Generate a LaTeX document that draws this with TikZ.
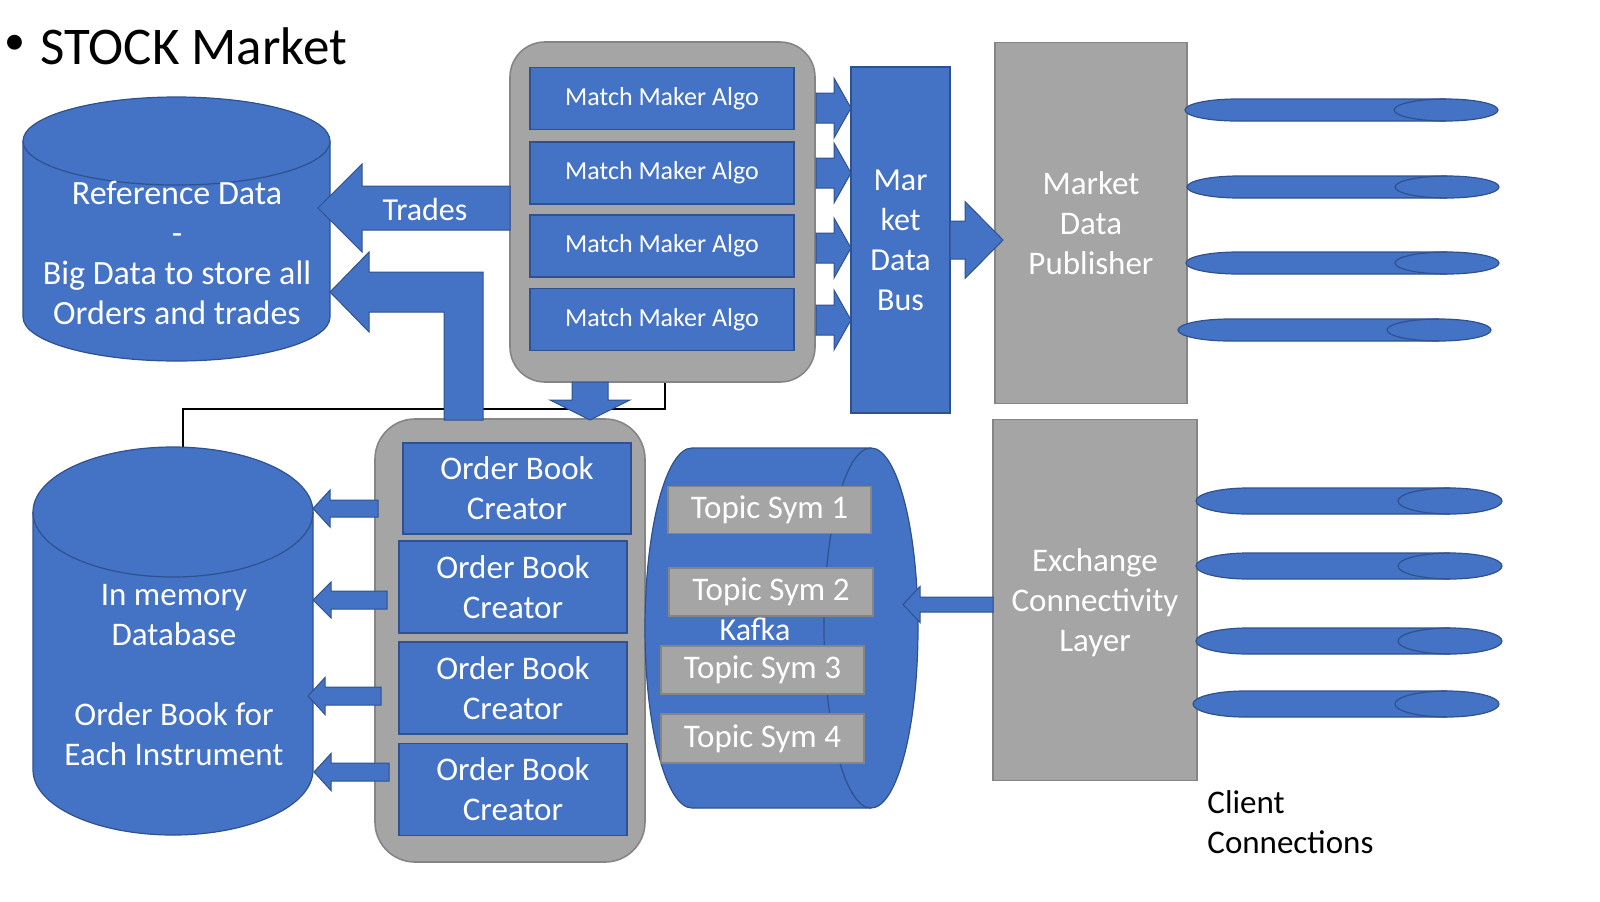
\documentclass[tikz,border=0pt]{standalone}
\usepackage{fontspec}
\setmainfont{Carlito}
\usetikzlibrary{calc}
\definecolor{bfill}{HTML}{4472C4}
\definecolor{bdark}{HTML}{2F528F}
\definecolor{gfill}{HTML}{A5A5A5}
\definecolor{gdark}{HTML}{858585}
\tikzset{
  arrowsty/.style={fill=bfill, draw=bdark, line width=0.5pt, line join=miter},
  cylsty/.style={fill=bfill, draw=bdark, line width=0.6pt},
  cylline/.style={draw=bdark, line width=0.6pt},
  bluebox/.style={draw=bdark, fill=bfill, line width=0.7pt, text=white, inner sep=0pt, align=center},
  graybox/.style={draw=gdark, fill=gfill, line width=0.6pt, text=white, inner sep=0pt, align=center},
  holder/.style={draw=gdark, fill=gfill, line width=0.8pt, inner sep=0pt},
  lbl/.style={text=white, align=center, inner sep=0pt, font=\fontsize{16.5}{20}\selectfont},
}
% tail, tip, shaft half width, head half width, head length (all in pt)
\newcommand\blockarrow[5]{%
  \coordinate (ba-h) at ($(#2)!#5!(#1)$);
  \filldraw[arrowsty] ($(#1)!#3!90:(#2)$) -- ($(ba-h)!#3!-90:(#1)$) -- ($(ba-h)!#4!-90:(#1)$)
     -- (#2) -- ($(ba-h)!#4!90:(#1)$) -- ($(ba-h)!#3!90:(#1)$) -- ($(#1)!#3!-90:(#2)$) -- cycle;
}
% left, right, centre y, y radius
\newcommand\clientcyl[4]{%
  \pgfmathsetmacro\cylA{#1+52}\pgfmathsetmacro\cylB{#2-52}%
  \filldraw[cylsty] (\cylA,#3-#4) -- (\cylB,#3-#4) arc[start angle=-90,end angle=90,x radius=52,y radius=#4]
     -- (\cylA,#3+#4) arc[start angle=90,end angle=270,x radius=52,y radius=#4] -- cycle;
  \draw[cylline] (\cylB,#3-#4) arc[start angle=-90,end angle=-270,x radius=52,y radius=#4];
}
\begin{document}
\begin{tikzpicture}[x=0.5pt,y=-0.5pt]
\useasboundingbox (0,0) rectangle (1600,901);

% title
\node[inner sep=0pt, font=\fontsize{21}{24}\selectfont] (bullet) at (15,45) {•};
\node[anchor=west, inner sep=0pt, font=\fontsize{26.5}{30}\selectfont] (title) at (40,46) {STOCK Market};

% black connector line
\coordinate (imtop) at (183,447);
\coordinate (mcbot) at (665,382);
\draw[line width=1.4pt] (imtop) -- ++(0,-38) -| (mcbot);

% reference data cylinder
\filldraw[cylsty] (23,141) -- (23,317) arc[start angle=180,end angle=0,x radius=153.5,y radius=44]
  -- (330,141) arc[start angle=0,end angle=-180,x radius=153.5,y radius=44] -- cycle;
\draw[cylline] (23,141) arc[start angle=180,end angle=0,x radius=153.5,y radius=44];
\node[lbl, font=\fontsize{17}{20}\selectfont] (ref) at (177,253) {Reference Data\\-\\Big Data to store all\\Orders and trades};

% in memory cylinder
\filldraw[cylsty] (33,512) -- (33,770) arc[start angle=180,end angle=0,x radius=140,y radius=65]
  -- (313,512) arc[start angle=0,end angle=-180,x radius=140,y radius=65] -- cycle;
\draw[cylline] (33,512) arc[start angle=180,end angle=0,x radius=140,y radius=65];
\node[lbl] (imdb) at (174,675) {In memory\\Database\\[20pt]Order Book for\\Each Instrument};

% match maker container
\node[holder, rounded corners=17.5pt, minimum width=152.5pt, minimum height=170pt] (mc) at (662.5,212) {};
\foreach \n/\y in {1/98.5,2/173,3/246,4/319.5}{
  \node[bluebox, minimum width=132pt, minimum height=31pt, font=\fontsize{13}{15}\selectfont] (mm\n) at (662,\y) {Match Maker Algo};
}

% order book container
\node[holder, rounded corners=20pt, minimum width=135pt, minimum height=221.5pt] (oc) at (510,640.5) {};
\node[bluebox, minimum width=114pt, minimum height=45.5pt, font=\fontsize{16.5}{20}\selectfont] (ob1) at (517,488.5) {Order Book\\Creator};
\foreach \n/\y in {2/587,3/688,4/789.5}{
  \node[bluebox, minimum width=114pt, minimum height=46pt, font=\fontsize{16.5}{20}\selectfont] (ob\n) at (513,\y) {Order Book\\Creator};
}

% kafka cylinder
\filldraw[cylsty] (692,448) -- (871,448) arc[start angle=-90,end angle=90,x radius=47,y radius=180]
  -- (692,808) arc[start angle=90,end angle=270,x radius=47,y radius=180] -- cycle;
\draw[cylline] (871,448) arc[start angle=-90,end angle=-270,x radius=47,y radius=180];
\node[graybox, minimum width=101.5pt, minimum height=23.5pt, font=\fontsize{16.5}{20}\selectfont] (t1) at (769.5,510) {Topic Sym 1};
\node[graybox, minimum width=102pt, minimum height=24pt, font=\fontsize{16.5}{20}\selectfont] (t2) at (771,592) {Topic Sym 2};
\node[graybox, minimum width=101.5pt, minimum height=24pt, font=\fontsize{16.5}{20}\selectfont] (t3) at (762.5,670) {Topic Sym 3};
\node[graybox, minimum width=101.5pt, minimum height=24.5pt, font=\fontsize{16.5}{20}\selectfont] (t4) at (762.5,738.5) {Topic Sym 4};
\node[lbl, font=\fontsize{16}{20}\selectfont] (kafka) at (755,629) {Kafka};

% bus, publisher, exchange
\node[bluebox, minimum width=49.5pt, minimum height=173pt, font=\fontsize{16}{20}\selectfont] (bus) at (900.5,240) {Mar\\ket\\Data\\Bus};
\node[graybox, minimum width=96pt, minimum height=180.5pt, font=\fontsize{16.5}{20}\selectfont] (pub) at (1091,223) {Market\\Data\\Publisher};
\node[graybox, minimum width=102pt, minimum height=180.5pt, font=\fontsize{16.5}{20}\selectfont] (exch) at (1095,600) {};
\node[lbl] (exchtxt) at (1095,603) {Exchange\\Connectivity\\Layer};

% arrows
\coordinate (trA) at (510,208); \coordinate (trB) at (318,208);
\blockarrow{trA}{trB}{11pt}{22pt}{22pt}
\node[lbl, font=\fontsize{16}{20}\selectfont] (trades) at (425,209) {Trades};

\filldraw[arrowsty] (330,292) -- (369,252) -- (369,272) -- (483,272) -- (483,420) -- (444,420)
  -- (444,312) -- (369,312) -- (369,332) -- cycle;

\coordinate (dnA) at (590,382); \coordinate (dnB) at (590,420);
\blockarrow{dnA}{dnB}{9pt}{20pt}{10pt}

\foreach \n/\y in {1/108,2/173,3/248,4/320}{
  \coordinate (biA\n) at (816,\y); \coordinate (biB\n) at (851,\y);
  \blockarrow{biA\n}{biB\n}{7.5pt}{15pt}{8.5pt}
}
\coordinate (bpA) at (950,240); \coordinate (bpB) at (1003,240);
\blockarrow{bpA}{bpB}{9.5pt}{19.25pt}{19pt}

\coordinate (oa1) at (378,508.5); \coordinate (ob1t) at (313,508.5);
\blockarrow{oa1}{ob1t}{4.25pt}{9.25pt}{8.5pt}
\coordinate (oa2) at (387,600); \coordinate (ob2t) at (313,600);
\blockarrow{oa2}{ob2t}{4.5pt}{9pt}{9pt}
\coordinate (oa3) at (381,696); \coordinate (ob3t) at (308,696);
\blockarrow{oa3}{ob3t}{4.5pt}{9.25pt}{8.5pt}
\coordinate (oa4) at (389,772); \coordinate (ob4t) at (314,772);
\blockarrow{oa4}{ob4t}{4.5pt}{9.25pt}{8.5pt}

\coordinate (exA) at (993,604.5); \coordinate (exB) at (903,604.5);
\blockarrow{exA}{exB}{3.75pt}{9pt}{8.5pt}

% client connections
\clientcyl{1185}{1498}{110}{11}
\clientcyl{1187}{1499}{187}{11}
\clientcyl{1186}{1499}{263}{11}
\clientcyl{1178}{1491}{330}{11}
\clientcyl{1196}{1502}{501}{13}
\clientcyl{1196}{1502}{566}{13}
\clientcyl{1196}{1502}{641}{13}
\clientcyl{1193}{1499}{704}{13}
\node[anchor=west, align=left, inner sep=0pt, font=\fontsize{16.5}{20}\selectfont] (client) at (1207,822) {Client\\Connections};
\end{tikzpicture}
\end{document}
